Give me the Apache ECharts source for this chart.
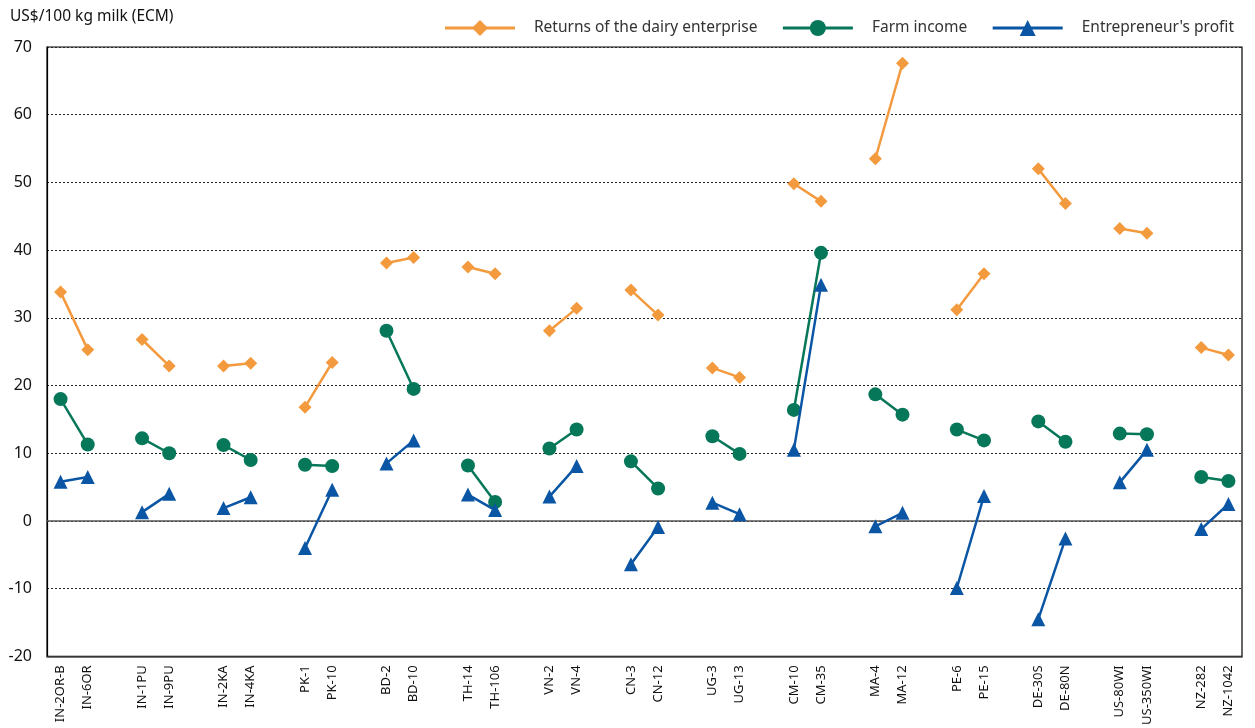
<!DOCTYPE html>
<html>
<head>
<meta charset="utf-8">
<script src="https://cdn.jsdelivr.net/npm/echarts@6/dist/echarts.min.js"></script>
<style>
  html, body { margin: 0; padding: 0; background: #fff; }
  #chart { width: 1255px; height: 728px; }
</style>
</head>
<body>
<div id="chart"></div>
<script>
// farm pairs, in drawing order
const farms = [
    'IN-2OR-B', 'IN-6OR', 'IN-1PU', 'IN-9PU', 'IN-2KA', 'IN-4KA', 'PK-1', 'PK-10',
    'BD-2', 'BD-10', 'TH-14', 'TH-106', 'VN-2', 'VN-4', 'CN-3', 'CN-12',
    'UG-3', 'UG-13', 'CM-10', 'CM-35', 'MA-4', 'MA-12', 'PE-6', 'PE-15',
    'DE-30S', 'DE-80N', 'US-80WI', 'US-350WI', 'NZ-282', 'NZ-1042'
];
const returnsDairy = [
    33.8, 25.3, 26.8, 22.9, 22.9, 23.3, 16.8, 23.4,
    38.1, 38.9, 37.5, 36.5, 28.1, 31.4, 34.1, 30.4,
    22.6, 21.2, 49.8, 47.2, 53.5, 67.6, 31.2, 36.5,
    52.0, 46.9, 43.2, 42.5, 25.6, 24.5
];
const farmIncome = [
    18.0, 11.3, 12.2, 10.0, 11.2, 9.0, 8.3, 8.1,
    28.1, 19.5, 8.2, 2.8, 10.7, 13.5, 8.8, 4.8,
    12.5, 9.9, 16.4, 39.6, 18.7, 15.7, 13.5, 11.9,
    14.7, 11.7, 12.9, 12.8, 6.5, 5.9
];
const entrepreneurProfit = [
    5.8, 6.5, 1.3, 4.0, 1.9, 3.5, -4.0, 4.6,
    8.5, 11.9, 3.9, 1.6, 3.6, 8.1, -6.4, -0.9,
    2.7, 1.0, 10.5, 34.9, -0.8, 1.2, -9.9, 3.7,
    -14.5, -2.6, 5.7, 10.5, -1.2, 2.5
];
const yTicks = [-20, -10, 0, 10, 20, 30, 40, 50, 60, 70];

// put an empty slot between each pair so the lines break
function withGaps(arr, gapValue) {
    const out = [];
    arr.forEach((v, i) => {
        if (i > 0 && i % 2 === 0) out.push(typeof gapValue === 'function' ? gapValue(i) : gapValue);
        out.push(v);
    });
    return out;
}
const categories = withGaps(farms, i => 'gap' + i);

const font = '"Noto Sans", "Open Sans", sans-serif';
const orange = '#f39a3e';
const green = '#07775a';
const blue = '#0b56a4';

const chart = echarts.init(document.getElementById('chart'));
chart.setOption({
    animation: false,
    textStyle: { fontFamily: font },
    grid: {
        left: 47, right: 13, top: 47, bottom: 69,
        show: true, borderColor: '#000', borderWidth: 1.2
    },
    legend: {
        top: 15, right: 16,
        itemWidth: 70, itemHeight: 20, itemGap: 24,
        lineStyle: { width: 3 },
        textStyle: { fontSize: 15.5, color: '#333', padding: [0, 0, 0, 14], fontFamily: font },
        data: ['Returns of the dairy enterprise', 'Farm income', "Entrepreneur's profit"]
    },
    xAxis: {
        type: 'category',
        data: categories,
        boundaryGap: true,
        axisLine: { show: true, onZero: false, lineStyle: { color: '#444', width: 1.5 } },
        axisTick: { show: false },
        axisLabel: {
            interval: 0, rotate: 90, fontSize: 13, color: '#111', margin: 9,
            formatter: v => (v.indexOf('gap') === 0 ? '' : v)
        },
        splitLine: { show: false }
    },
    yAxis: {
        type: 'value',
        min: yTicks[0], max: yTicks[yTicks.length - 1], interval: 10,
        name: 'US$/100 kg milk (ECM)',
        nameLocation: 'end',
        nameGap: 22,
        nameTextStyle: { fontSize: 15.5, color: '#111', align: 'left', padding: [0, 0, 0, -37] },
        axisLine: { show: true, lineStyle: { color: '#000', width: 1.2 } },
        axisTick: { show: false },
        axisLabel: { fontSize: 16, color: '#111', margin: 15 },
        splitLine: { show: true, lineStyle: { color: '#222', type: [2, 2], width: 1 } }
    },
    series: [
        {
            name: 'Returns of the dairy enterprise',
            type: 'line',
            data: withGaps(returnsDairy, null),
            connectNulls: false,
            symbol: 'diamond', symbolSize: 13,
            lineStyle: { color: orange, width: 2.5 },
            itemStyle: { color: orange },
            z: 3,
            markLine: {
                silent: true, symbol: 'none', label: { show: false },
                lineStyle: { color: '#555', type: 'solid', width: 1.5 },
                data: [{ yAxis: 0 }]
            }
        },
        {
            name: 'Farm income',
            type: 'line',
            data: withGaps(farmIncome, null),
            connectNulls: false,
            symbol: 'circle', symbolSize: 14,
            lineStyle: { color: green, width: 2.5 },
            itemStyle: { color: green },
            z: 4
        },
        {
            name: "Entrepreneur's profit",
            type: 'line',
            data: withGaps(entrepreneurProfit, null),
            connectNulls: false,
            symbol: 'triangle', symbolSize: 14,
            lineStyle: { color: blue, width: 2.5 },
            itemStyle: { color: blue },
            z: 5
        }
    ]
});
</script>
</body>
</html>
